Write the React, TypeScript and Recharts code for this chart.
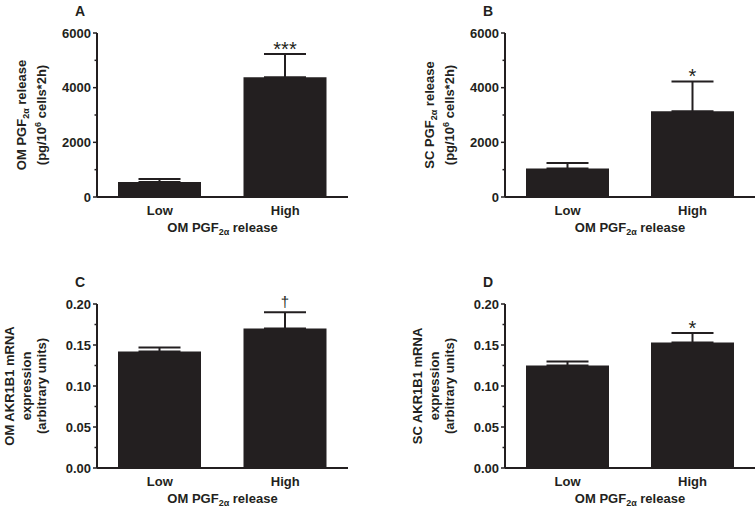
import React from 'react';
import { BarChart, Bar, XAxis, YAxis, ErrorBar, LabelList } from 'recharts';

const INK = '#231f20';
const FONT = '"Liberation Sans", Arial, Helvetica, sans-serif';

// groups on the x axis
const groups = ['Low', 'High'];

// A: OM PGF2a release
const omReleaseMean = [550, 4380];
const omReleaseSem = [110, 850];
const omReleaseMarks = ['', '***'];

// B: SC PGF2a release
const scReleaseMean = [1040, 3140];
const scReleaseSem = [200, 1090];
const scReleaseMarks = ['', '*'];

// C: OM AKR1B1 mRNA
const omAkrMean = [0.142, 0.17];
const omAkrSem = [0.005, 0.02];
const omAkrMarks = ['', '†'];

// D: SC AKR1B1 mRNA
const scAkrMean = [0.125, 0.153];
const scAkrSem = [0.005, 0.0115];
const scAkrMarks = ['', '*'];

// y axis ticks (minor ones have no label)
const releaseTicks = [0, 1000, 2000, 3000, 4000, 5000, 6000];
const releaseMajor = [0, 2000, 4000, 6000];
const mrnaTicks = [0, 0.025, 0.05, 0.075, 0.1, 0.125, 0.15, 0.175, 0.2];
const mrnaMajor = [0, 0.05, 0.1, 0.15, 0.2];

const buildRows = (mean: number[], sem: number[]) =>
    groups.map((g, i) => ({ group: g, value: mean[i], err: [0, sem[i]] }));

const YTick = ({ x, y, payload, major, digits }: any) => {
    const v = payload.value;
    const isMajor = major.some((m: number) => Math.abs(m - v) < 1e-9);
    return (
        <g>
            <line x1={x} x2={x - (isMajor ? 4 : 2.5)} y1={y} y2={y} stroke={INK} strokeWidth={1.5} />
            {isMajor && (
                <text
                    x={x - 6}
                    y={y + 4.5}
                    textAnchor="end"
                    fontSize={13}
                    fontWeight="bold"
                    fontFamily={FONT}
                    fill={INK}
                >
                    {v.toFixed(digits)}
                </text>
            )}
        </g>
    );
};

const XTick = ({ x, y, payload }: any) => (
    <text x={x} y={y + 18} textAnchor="middle" fontSize={13} fontWeight="bold" fontFamily={FONT} fill={INK}>
        {payload.value}
    </text>
);

const pgf = (prefix: string) => (
    <>
        {prefix} PGF
        <tspan fontSize={9} dy={3}>2α</tspan>
        <tspan dy={-3}>{'  release'}</tspan>
    </>
);

const perCells = (
    <>
        (pg/10
        <tspan fontSize={9} dy={-5}>6</tspan>
        <tspan dy={5}> cells*2h)</tspan>
    </>
);

const SigMark = ({ viewBox, index, marks, mean, sem }: any) => {
    const mark = marks[index];
    if (!mark || !viewBox) return null;
    const { x, y, width, height } = viewBox;
    // top of the error bar, from the bar's own pixel scale
    const top = y - (sem[index] * height) / mean[index];
    const cx = x + width / 2;
    const dagger = mark === '†';
    return (
        <text
            x={cx}
            y={dagger ? top - 5 : top + 2}
            textAnchor="middle"
            fontSize={dagger ? 15 : 20}
            fontFamily={FONT}
            fill={INK}
        >
            {mark}
        </text>
    );
};

interface PanelProps {
    letter: string;
    left: number;
    top: number;
    width: number;
    mean: number[];
    sem: number[];
    marks: string[];
    ticks: number[];
    major: number[];
    domainMax: number;
    digits: number;
    yLines: React.ReactNode[];
    yOffsets: number[];
}

const Panel: React.FC<PanelProps> = ({
    letter, left, top, width, mean, sem, marks, ticks, major, domainMax, digits, yLines, yOffsets,
}) => {
    const rows = buildRows(mean, sem);

    const yLabel = (props: any) => {
        const { x, y, width: w, height: h } = props.viewBox;
        const ax = x + w;
        const cy = y + h / 2;
        return (
            <g fontFamily={FONT} fontWeight="bold" fill={INK}>
                <text x={ax - 17} y={y - 17} textAnchor="middle" fontSize={14}>{letter}</text>
                {yLines.map((ln, i) => {
                    const bx = ax + yOffsets[i] + 4.7;
                    return (
                        <text key={i} x={bx} y={cy} transform={`rotate(-90 ${bx} ${cy})`} textAnchor="middle" fontSize={13}>
                            {ln}
                        </text>
                    );
                })}
            </g>
        );
    };

    const xLabel = (props: any) => {
        const { x, y, width: w } = props.viewBox;
        return (
            <text x={x + w / 2} y={y + 35} textAnchor="middle" fontSize={13} fontWeight="bold" fontFamily={FONT} fill={INK}>
                {pgf('OM')}
            </text>
        );
    };

    return (
        <div style={{ position: 'absolute', left, top }}>
            <BarChart width={width} height={240} data={rows} margin={{ top: 33, right: 350 - width + 2 > 2 ? 0 : 2, bottom: 3, left: 0 }}>
                <XAxis
                    dataKey="group"
                    height={40}
                    axisLine={{ stroke: INK, strokeWidth: 2 }}
                    tickLine={false}
                    tickSize={0}
                    tickMargin={0}
                    tick={<XTick />}
                    label={{ content: xLabel }}
                />
                <YAxis
                    type="number"
                    width={97}
                    domain={[0, domainMax]}
                    ticks={ticks}
                    interval={0}
                    allowDataOverflow
                    axisLine={{ stroke: INK, strokeWidth: 2 }}
                    tickLine={false}
                    tickSize={0}
                    tickMargin={0}
                    tick={(p: any) => <YTick {...p} major={major} digits={digits} />}
                    label={{ content: yLabel }}
                />
                <Bar dataKey="value" fill={INK} barSize={83} isAnimationActive={false}>
                    <ErrorBar dataKey="err" width={21} stroke={INK} strokeWidth={2} direction="y" />
                    <LabelList
                        dataKey="value"
                        content={(p: any) => <SigMark {...p} marks={marks} mean={mean} sem={sem} />}
                    />
                </Bar>
            </BarChart>
        </div>
    );
};

const releaseOffsets = [-76, -56];
const mrnaOffsets = [-88, -71, -56];

export default function App() {
    return (
        <div
            style={{
                position: 'absolute',
                left: 0,
                top: 0,
                width: 756,
                height: 511,
                background: '#fff',
                overflow: 'hidden',
            }}
        >
            <Panel
                letter="A" left={0} top={0} width={350}
                mean={omReleaseMean} sem={omReleaseSem} marks={omReleaseMarks}
                ticks={releaseTicks} major={releaseMajor} domainMax={6000} digits={0}
                yLines={[pgf('OM'), perCells]} yOffsets={releaseOffsets}
            />
            <Panel
                letter="B" left={408} top={0} width={347}
                mean={scReleaseMean} sem={scReleaseSem} marks={scReleaseMarks}
                ticks={releaseTicks} major={releaseMajor} domainMax={6000} digits={0}
                yLines={[pgf('SC'), perCells]} yOffsets={releaseOffsets}
            />
            <Panel
                letter="C" left={0} top={271} width={350}
                mean={omAkrMean} sem={omAkrSem} marks={omAkrMarks}
                ticks={mrnaTicks} major={mrnaMajor} domainMax={0.2} digits={2}
                yLines={['OM AKR1B1 mRNA', 'expression', '(arbitrary units)']} yOffsets={mrnaOffsets}
            />
            <Panel
                letter="D" left={408} top={271} width={347}
                mean={scAkrMean} sem={scAkrSem} marks={scAkrMarks}
                ticks={mrnaTicks} major={mrnaMajor} domainMax={0.2} digits={2}
                yLines={['SC AKR1B1 mRNA', 'expression', '(arbitrary units)']} yOffsets={mrnaOffsets}
            />
        </div>
    );
}
